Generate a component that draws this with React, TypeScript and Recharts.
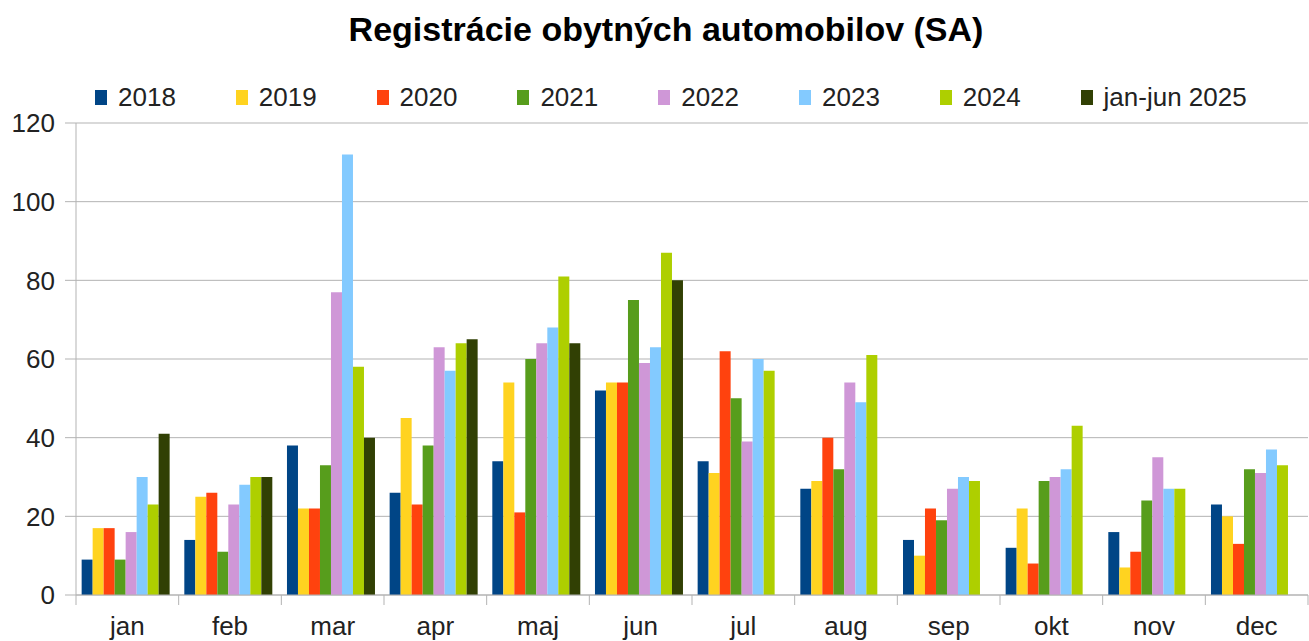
import React from 'react';
import { BarChart, Bar, XAxis, YAxis, CartesianGrid } from 'recharts';

const months = ['jan', 'feb', 'mar', 'apr', 'maj', 'jun', 'jul', 'aug', 'sep', 'okt', 'nov', 'dec'];
const seriesNames = ['2018', '2019', '2020', '2021', '2022', '2023', '2024', 'jan-jun 2025'];
const seriesColors = ['#004586', '#ffd320', '#ff420e', '#579d1c', '#cf97d7', '#83caff', '#aecf00', '#314004'];

const y2018 = [9, 14, 38, 26, 34, 52, 34, 27, 14, 12, 16, 23];
const y2019 = [17, 25, 22, 45, 54, 54, 31, 29, 10, 22, 7, 20];
const y2020 = [17, 26, 22, 23, 21, 54, 62, 40, 22, 8, 11, 13];
const y2021 = [9, 11, 33, 38, 60, 75, 50, 32, 19, 29, 24, 32];
const y2022 = [16, 23, 77, 63, 64, 59, 39, 54, 27, 30, 35, 31];
const y2023 = [30, 28, 112, 57, 68, 63, 60, 49, 30, 32, 27, 37];
const y2024 = [23, 30, 58, 64, 81, 87, 57, 61, 29, 43, 27, 33];
const y2025 = [41, 30, 40, 65, 64, 80, null, null, null, null, null, null];

const yTicks = [0, 20, 40, 60, 80, 100, 120];

const allSeries = [y2018, y2019, y2020, y2021, y2022, y2023, y2024, y2025];
const data = months.map((m, i) => {
  const row: Record<string, string | number | null> = { month: m };
  seriesNames.forEach((name, s) => {
    row[name] = allSeries[s][i];
  });
  return row;
});

const gridColor = '#b3b3b3';
const textColor = '#222';
const fontFamily = '"Liberation Sans", Arial, sans-serif';

const MonthTick = (props: any) => {
  const { x, y, payload, index } = props;
  const half = payload.offset ?? 51.33;
  const axisY = y - 22;
  return (
    <g>
      <line x1={x - half} x2={x - half} y1={axisY} y2={axisY + 10} stroke={gridColor} />
      {index === months.length - 1 && (
        <line x1={x + half} x2={x + half} y1={axisY} y2={axisY + 10} stroke={gridColor} />
      )}
      <text x={x} y={y} dy="0.71em" textAnchor="middle" fill={textColor} fontSize={26} fontFamily={fontFamily}>
        {payload.value}
      </text>
    </g>
  );
};

const App: React.FC = () => {
  return (
    <div style={{ position: 'fixed', left: 0, top: 0, width: 1309, height: 641, background: '#fff', fontFamily }}>
      <div
        style={{
          position: 'absolute',
          top: 12,
          left: 666,
          transform: 'translateX(-50%)',
          whiteSpace: 'nowrap',
          fontSize: 34,
          lineHeight: '34px',
          fontWeight: 'bold',
          color: '#000',
        }}
      >
        Registrácie obytných automobilov (SA)
      </div>
      {seriesNames.map((name, i) => (
        <div
          key={name}
          style={{ position: 'absolute', left: 95 + i * 140.8, top: 84, height: 26, display: 'flex', alignItems: 'center' }}
        >
          <div style={{ width: 12, height: 15, background: seriesColors[i], marginRight: 11 }} />
          <span style={{ fontSize: 26, lineHeight: '26px', color: textColor, whiteSpace: 'nowrap' }}>{name}</span>
        </div>
      ))}
      <div style={{ position: 'absolute', left: 0, top: 0 }}>
        <BarChart
          width={1309}
          height={641}
          data={data}
          margin={{ top: 123, right: 1, left: 16, bottom: 0 }}
          barCategoryGap="5.5%"
          barGap={0}
        >
          <CartesianGrid vertical={false} stroke={gridColor} />
          <XAxis
            dataKey="month"
            height={46}
            tickSize={10}
            tickMargin={12}
            tickLine={false}
            axisLine={{ stroke: gridColor }}
            tick={<MonthTick />}
            interval={0}
          />
          <YAxis
            domain={[0, 120]}
            ticks={yTicks}
            width={60}
            tickSize={11}
            tickMargin={10}
            axisLine={{ stroke: gridColor }}
            tickLine={{ stroke: gridColor }}
            tick={{ fill: textColor, fontSize: 26, fontFamily }}
            interval={0}
          />
          <YAxis
            yAxisId="frame"
            orientation="right"
            width={0}
            tick={false}
            tickLine={false}
            axisLine={{ stroke: gridColor }}
            domain={[0, 120]}
          />
          {seriesNames.map((name, i) => (
            <Bar key={name} dataKey={name} fill={seriesColors[i]} isAnimationActive={false} />
          ))}
        </BarChart>
      </div>
    </div>
  );
};

export default App;
